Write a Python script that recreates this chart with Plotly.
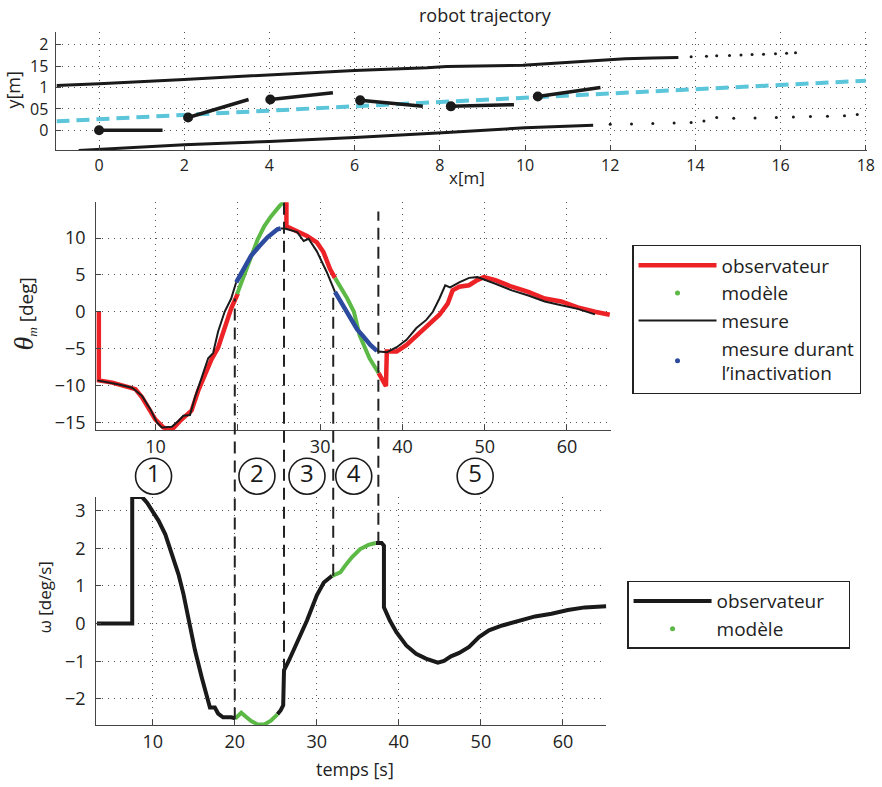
import plotly.graph_objects as go

W, H = 882, 787
FONT = "Open Sans"

# ---------------- top panel : robot trajectory ----------------
upper_wall_x = [-1.0, 0.0, 2.0, 4.0, 6.0, 7.7, 8.16, 9.95, 11.2, 12.35, 13.0, 13.6]
upper_wall_y = [1.05, 1.09, 1.19, 1.30, 1.40, 1.46, 1.49, 1.52, 1.60, 1.67, 1.69, 1.70]
upper_dots_x = [13.9, 14.26, 14.5, 14.8, 15.07, 15.33, 15.6, 15.88, 16.14, 16.35]
upper_dots_y = [1.72, 1.73, 1.74, 1.75, 1.76, 1.77, 1.78, 1.79, 1.80, 1.81]

lower_wall_x = [-0.48, 2.0, 4.0, 6.0, 8.16, 10.0, 11.6]
lower_wall_y = [-0.47, -0.34, -0.26, -0.17, -0.05, 0.06, 0.12]
lower_dots_x = [12.0, 12.5, 13.0, 13.5, 13.9, 14.2, 14.5, 14.9, 15.4, 15.9, 16.3, 16.7, 17.1, 17.5, 17.8]
lower_dots_y = [0.14, 0.15, 0.16, 0.17, 0.18, 0.22, 0.30, 0.28, 0.29, 0.30, 0.31, 0.32, 0.33, 0.34, 0.37]

corridor_x = [-1.0, 18.0]
corridor_y = [0.21, 1.16]

pose_x = [0.0, 2.09, 4.02, 6.13, 8.26, 10.3]
pose_y = [0.0, 0.30, 0.72, 0.70, 0.56, 0.79]
head_x = [1.49, 3.51, 5.49, 7.6, 9.74, 11.77]
head_y = [0.0, 0.72, 0.88, 0.56, 0.60, 1.0]

x_ticks_top = [0, 2, 4, 6, 8, 10, 12, 14, 16, 18]
y_ticks_top = [0, 0.5, 1, 1.5, 2]
y_ticktext_top = ["0", "05", "1", "15", "2"]

# ---------------- middle panel : theta_m ----------------
obs_t = [3.1, 3.1, 4.74, 6.35, 7.55, 8.35, 9.16, 9.96, 10.96, 11.97, 12.97, 13.77, 14.37, 15.18,
         15.98, 16.78, 17.59, 18.39, 19.19, 19.8, 20.0,
         None,
         25.6, 25.9, 25.9, 27.2, 28.4, 29.6, 30.4, 31.2, 31.8,
         None,
         37.1, 38.0, 38.1, 39.3, 40.5, 41.7, 43.3, 44.5, 45.5, 46.1, 46.9, 48.1, 49.1, 49.9,
         51.3, 53.3, 55.3, 57.3, 59.3, 61.3, 63.4, 65.2]
obs_theta = [0.0, -9.3, -9.6, -10.1, -10.5, -11.6, -13.2, -14.6, -15.7, -16.0, -14.8, -14.1, -13.4, -10.7,
             -8.5, -6.5, -4.9, -2.2, 0.46, 2.0, 2.5,
             None,
             14.8, 14.9, 11.6, 11.0, 10.3, 9.4, 8.1, 5.8, 4.6,
             None,
             -8.3, -10.1, -5.4, -5.4, -4.5, -3.3, -1.8, -0.4, 1.1, 2.9, 3.4, 3.6, 4.3, 4.7,
             4.3, 3.4, 2.7, 1.8, 1.4, 0.6, 0.0, -0.4]

model_t = [19.9, 20.8, 21.6, 22.4, 23.2, 24.0, 25.1, 25.6,
           None,
           31.8, 32.9, 33.3, 34.1, 34.8, 36.0, 37.1]
model_theta = [2.4, 5.2, 7.6, 9.8, 11.6, 12.9, 14.4, 14.9,
               None,
               4.6, 2.7, 1.8, 0.0, -3.2, -6.3, -8.3]

meas_t = [2.93, 5.54, 7.14, 8.35, 9.36, 10.16, 10.76, 11.97, 12.77, 13.37, 14.18, 14.78, 15.58,
          16.39, 16.99, 17.59, 18.39, 19.19, 19.68, 19.8,
          None,
          25.2, 25.7, 27.2, 28.0, 28.6, 29.6, 30.8, 31.7, 31.8,
          None,
          36.9, 37.1, 38.1, 39.3, 40.5, 41.7, 42.9, 43.7, 44.5, 45.2, 45.8, 46.9, 48.1, 49.1,
          51.3, 53.3, 55.3, 57.3, 59.3, 61.3, 63.4]
meas_theta = [-9.3, -9.85, -10.3, -11.4, -13.2, -15.0, -15.7, -15.6, -14.8, -14.1, -14.0, -11.6, -9.0,
              -6.3, -5.6, -2.7, 0.0, 1.8, 3.6, 4.0,
              None,
              11.3, 11.3, 10.8, 9.6, 9.9, 8.2, 5.4, 3.1, 2.7,
              None,
              -5.3, -5.4, -5.5, -4.8, -3.8, -2.2, -1.1, 0.0, 1.8, 3.6, 3.3, 4.0, 4.6, 4.7,
              3.8, 2.9, 2.2, 1.4, 0.9, 0.4, -0.35]

inact_t = [19.8, 20.7, 21.6, 22.6, 23.6, 24.8, 25.2,
           None,
           31.8, 32.7, 33.6, 34.5, 35.3, 36.1, 36.9]
inact_theta = [4.0, 5.9, 7.6, 8.9, 10.1, 11.2, 11.3,
               None,
               2.7, 0.9, -0.9, -2.4, -3.4, -4.5, -5.3]

# ---------------- bottom panel : omega ----------------
omega_obs_t = [3.2, 7.5, 7.5, 8.71, 9.31, 9.92, 10.72, 11.53, 12.33, 13.14, 13.74, 14.35, 15.15,
               15.96, 16.56, 16.97, 17.57, 17.97, 18.57, 19.58, 20.06,
               None,
               25.2, 25.6, 25.9, 26.0, 26.6, 27.6, 28.8, 30.0, 30.85, 31.86,
               None,
               37.17, 37.9, 38.18, 38.18, 38.9, 39.7, 40.9, 42.1, 43.3, 44.75, 45.5, 46.35, 47.35,
               48.56, 49.77, 50.98, 52.6, 54.6, 56.6, 58.6, 60.6, 62.66, 65.27]
omega_obs = [0.0, 0.0, 3.36, 3.36, 3.21, 2.99, 2.73, 2.37, 1.84, 1.31, 0.79, 0.08, -0.71,
             -1.42, -1.95, -2.23, -2.23, -2.39, -2.49, -2.49, -2.52,
             None,
             -2.41, -2.30, -2.17, -1.24, -0.98, -0.49, 0.08, 0.75, 1.09, 1.27,
             None,
             2.14, 2.14, 2.07, 0.43, 0.08, -0.23, -0.58, -0.80, -0.93, -1.04, -0.99, -0.87, -0.78,
             -0.62, -0.36, -0.18, -0.05, 0.08, 0.19, 0.26, 0.36, 0.43, 0.46]

omega_model_t = [20.06, 20.79, 21.39, 22.0, 22.8, 23.6, 24.4, 25.2,
                 None,
                 31.86, 32.86, 33.46, 34.27, 35.28, 36.29, 37.17]
omega_model = [-2.52, -2.37, -2.48, -2.59, -2.68, -2.68, -2.58, -2.41,
               None,
               1.27, 1.36, 1.54, 1.76, 1.98, 2.09, 2.14]

phase_t = [20.0, 26.0, 32.0, 37.5]
phase_top_theta = [1.8, 14.9, 2.7, 13.6]
phase_bottom_omega = [-2.55, -1.25, 1.27, 2.12]
phase_labels = ["1", "2", "3", "4", "5"]
phase_label_t = [10.1, 22.7, 28.8, 34.5, 49.3]

time_ticks = [10, 20, 30, 40, 50, 60]
time_ticks_mid = [10, 30, 40, 50, 60]
theta_ticks = [-15, -10, -5, 0, 5, 10]
omega_ticks = [-2, -1, 0, 1, 2, 3]

# ---------------- colours ----------------
RED = "#ec2227"
GREEN = "#5cb946"
BLUE = "#2c4a9e"
CYAN = "#5bc5da"
BLACK = "#1a1a1a"

# ---------------- layout geometry (pixels -> paper) ----------------
def px_x(p):
    return p / W

def px_y(p):
    return 1 - p / H

top_dom_x = [px_x(57), px_x(875)]
top_dom_y = [px_y(151), px_y(32)]
mid_dom_x = [px_x(97), px_x(617)]
mid_dom_y = [px_y(432), px_y(203)]
bot_dom_x = [px_x(97), px_x(612)]
bot_dom_y = [px_y(728), px_y(499)]
circ_dom_y = [px_y(499), px_y(457)]

top_range_x = [-1.0, 18.03]
top_range_y = [-0.47, 2.3]
mid_range_x = [2.77, 65.4]
mid_range_y = [-16.08, 14.86]
bot_range_x = [3.1, 65.3]
bot_range_y = [-2.70, 3.36]

fig = go.Figure()

# top panel traces
fig.add_trace(go.Scatter(x=upper_wall_x, y=upper_wall_y, mode="lines",
                         line=dict(color=BLACK, width=3), showlegend=False, xaxis="x", yaxis="y"))
fig.add_trace(go.Scatter(x=upper_dots_x, y=upper_dots_y, mode="markers",
                         marker=dict(color=BLACK, size=3), showlegend=False, xaxis="x", yaxis="y"))
fig.add_trace(go.Scatter(x=lower_wall_x, y=lower_wall_y, mode="lines",
                         line=dict(color=BLACK, width=3), showlegend=False, xaxis="x", yaxis="y"))
fig.add_trace(go.Scatter(x=lower_dots_x, y=lower_dots_y, mode="markers",
                         marker=dict(color=BLACK, size=3), showlegend=False, xaxis="x", yaxis="y"))
fig.add_trace(go.Scatter(x=corridor_x, y=corridor_y, mode="lines",
                         line=dict(color=CYAN, width=4, dash="13px,7px"), showlegend=False,
                         xaxis="x", yaxis="y"))
seg_x, seg_y = [], []
for x0, y0, x1, y1 in zip(pose_x, pose_y, head_x, head_y):
    seg_x += [x0, x1, None]
    seg_y += [y0, y1, None]
fig.add_trace(go.Scatter(x=seg_x, y=seg_y, mode="lines",
                         line=dict(color=BLACK, width=3.5), showlegend=False, xaxis="x", yaxis="y"))
fig.add_trace(go.Scatter(x=pose_x, y=pose_y, mode="markers",
                         marker=dict(color=BLACK, size=10), showlegend=False, xaxis="x", yaxis="y"))

# middle panel traces
fig.add_trace(go.Scatter(x=obs_t, y=obs_theta, mode="lines", name="observateur",
                         line=dict(color=RED, width=4.5), legend="legend",
                         xaxis="x2", yaxis="y2"))
fig.add_trace(go.Scatter(x=model_t, y=model_theta, mode="lines", line=dict(color=GREEN, width=4),
                         showlegend=False, xaxis="x2", yaxis="y2"))
fig.add_trace(go.Scatter(x=[None], y=[None], mode="markers", name="modèle",
                         marker=dict(color=GREEN, size=5), legend="legend", xaxis="x2", yaxis="y2"))
fig.add_trace(go.Scatter(x=meas_t, y=meas_theta, mode="lines", name="mesure",
                         line=dict(color=BLACK, width=2), legend="legend", xaxis="x2", yaxis="y2"))
fig.add_trace(go.Scatter(x=inact_t, y=inact_theta, mode="lines", line=dict(color=BLUE, width=4.5),
                         showlegend=False, xaxis="x2", yaxis="y2"))
fig.add_trace(go.Scatter(x=[None], y=[None], mode="markers", name="mesure durant<br>l’inactivation",
                         marker=dict(color=BLUE, size=5), legend="legend", xaxis="x2", yaxis="y2"))

# bottom panel traces
fig.add_trace(go.Scatter(x=omega_obs_t, y=omega_obs, mode="lines",
                         name="observateur\u00a0\u00a0\u00a0\u00a0",
                         line=dict(color=BLACK, width=4), legend="legend2", xaxis="x3", yaxis="y3"))
fig.add_trace(go.Scatter(x=omega_model_t, y=omega_model, mode="lines", line=dict(color=GREEN, width=4),
                         showlegend=False, xaxis="x3", yaxis="y3"))
fig.add_trace(go.Scatter(x=[None], y=[None], mode="markers", name="modèle",
                         marker=dict(color=GREEN, size=5), legend="legend2", xaxis="x3", yaxis="y3"))

# phase circles (on an invisible overlay axis in the band between the panels)
fig.add_trace(go.Scatter(x=phase_label_t, y=[0.5] * len(phase_label_t), mode="markers+text",
                         text=phase_labels, textposition="middle center",
                         textfont=dict(family=FONT, size=24, color=BLACK),
                         marker=dict(size=36, color="white", line=dict(color=BLACK, width=1.6)),
                         cliponaxis=False, showlegend=False, xaxis="x4", yaxis="y4"))

# dashed phase boundaries (from middle curve down to bottom curve)
def to_paper(v, rng, dom):
    return dom[0] + (v - rng[0]) / (rng[1] - rng[0]) * (dom[1] - dom[0])

shapes = []
for t, th, om in zip(phase_t, phase_top_theta, phase_bottom_omega):
    shapes.append(dict(type="line", xref="x3", yref="paper", x0=t, x1=t,
                       y0=to_paper(om, bot_range_y, bot_dom_y),
                       y1=to_paper(th, mid_range_y, mid_dom_y),
                       line=dict(color="#222", width=2, dash="12px,7px"), layer="above"))

grid = dict(showgrid=True, gridcolor="#555", gridwidth=1, griddash="1px,5px")
axis_common = dict(showline=True, linecolor="#444", linewidth=1, ticks="inside", ticklen=5,
                   tickcolor="#444", zeroline=False, mirror=False, **grid)

tickfont_top = dict(family=FONT, size=16, color="#222")
tickfont = dict(family=FONT, size=18, color="#222")

def ann(text, x, y, size, angle=0):
    return dict(text=text, x=px_x(x), y=px_y(y), xref="paper", yref="paper",
                xanchor="center", yanchor="middle", textangle=angle, showarrow=False,
                font=dict(family=FONT, size=size, color="#222"))

fig.update_layout(
    width=W, height=H,
    margin=dict(l=0, r=0, t=0, b=0),
    paper_bgcolor="white", plot_bgcolor="white",
    font=dict(family=FONT, color="#222"),
    xaxis=dict(domain=top_dom_x, range=top_range_x, tickvals=x_ticks_top, anchor="y",
               tickfont=tickfont_top, ticklabeloverflow="allow", **axis_common),
    yaxis=dict(domain=top_dom_y, range=top_range_y, tickvals=y_ticks_top, ticktext=y_ticktext_top,
               anchor="x", tickfont=tickfont_top, ticklabelstandoff=4, **axis_common),
    xaxis2=dict(domain=mid_dom_x, range=mid_range_x, tickvals=time_ticks_mid, anchor="y2",
                tickfont=tickfont,
                minor=dict(tickvals=[20], showgrid=True, gridcolor="#555", griddash="1px,5px",
                           ticks="inside", ticklen=5, tickcolor="#444"),
                **axis_common),
    yaxis2=dict(domain=mid_dom_y, range=mid_range_y, tickvals=theta_ticks, anchor="x2",
                tickfont=tickfont, ticklabelstandoff=6, **axis_common),
    xaxis3=dict(domain=bot_dom_x, range=bot_range_x, tickvals=time_ticks, anchor="y3",
                tickfont=tickfont, **axis_common),
    yaxis3=dict(domain=bot_dom_y, range=bot_range_y, tickvals=omega_ticks, anchor="x3",
                tickfont=tickfont, ticklabelstandoff=6, **axis_common),
    xaxis4=dict(domain=bot_dom_x, range=bot_range_x, anchor="y4", visible=False),
    yaxis4=dict(domain=circ_dom_y, range=[0, 1], anchor="x4", visible=False),
    legend=dict(x=px_x(638), y=px_y(246), xanchor="left", yanchor="top",
                bordercolor="#222", borderwidth=1.3, bgcolor="white",
                font=dict(family=FONT, size=19, color="#222"), itemwidth=78,
                tracegroupgap=0),
    legend2=dict(x=px_x(633), y=px_y(583), xanchor="left", yanchor="top",
                 bordercolor="#222", borderwidth=1.3, bgcolor="white",
                 font=dict(family=FONT, size=19, color="#222"), itemwidth=78),
    shapes=shapes,
    annotations=[
        ann("robot trajectory", 490, 15, 18),
        ann("x[m]", 471, 178, 17),
        ann("y[m]", 13, 90, 18, -90),
        ann("<span style=\"font-family:'Liberation Serif';font-size:28px\"><i>θ</i></span>"
            "<sub><i><span style=\"font-family:'Liberation Serif'\">m</span></i></sub> [deg]",
            24, 315, 19, -90),
        ann("ω [deg/s]", 45, 600, 17, -90),
        ann("temps [s]", 358, 772, 18),
    ],
)

fig.write_html("out.html", post_script="document.body.style.margin='0px';",
               config={"displayModeBar": False})
